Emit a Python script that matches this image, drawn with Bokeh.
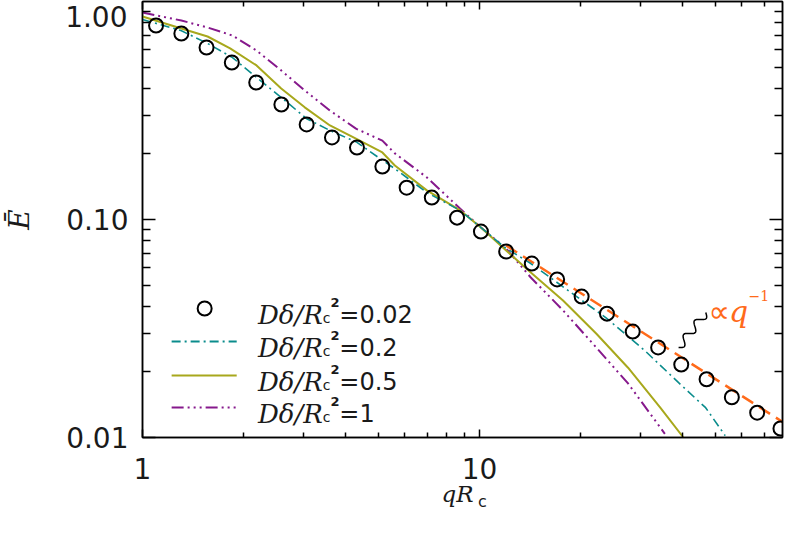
import numpy as np
from bokeh.plotting import figure
from bokeh.models import (LogAxis, LinearAxis, FixedTicker, PrintfTickFormatter, Label, Range1d,
                          LinearScale)
from bokeh.embed import file_html
from bokeh.resources import INLINE

# ---------------- data ----------------
q_circ = [1.097, 1.304, 1.549, 1.841, 2.175, 2.583, 3.07, 3.65, 4.33, 5.15, 6.08, 7.22, 8.58,
          10.1, 12.0, 14.3, 17.0, 20.1, 23.9, 28.5, 33.9, 39.7, 47.2, 56.1, 66.7, 78.2]
E_circ = [0.776, 0.713, 0.615, 0.525, 0.425, 0.337, 0.273, 0.238, 0.214, 0.175, 0.140, 0.126, 0.102,
          0.088, 0.0713, 0.0628, 0.0531, 0.0443, 0.0370, 0.0306, 0.0259, 0.0216, 0.0185, 0.0153, 0.0130, 0.0110]

q_02 = [1.0, 1.30, 1.56, 1.85, 2.18, 2.58, 3.07, 3.60, 4.33, 5.15, 5.61, 6.98, 8.77, 10.1, 11.9,
        14.2, 23.7, 30.9, 39.2, 46.9, 53.6]
E_02 = [0.827, 0.736, 0.642, 0.553, 0.448, 0.363, 0.290, 0.256, 0.226, 0.187, 0.171, 0.133, 0.110,
        0.0919, 0.0744, 0.0628, 0.0355, 0.0251, 0.0177, 0.0137, 0.0102]

q_05 = [1.0, 1.304, 1.56, 1.82, 2.18, 2.58, 3.03, 3.60, 4.30, 5.15, 5.61, 6.98, 8.77, 10.1, 12.0,
        14.2, 17.7, 22.2, 27.6, 34.4, 40.3]
E_05 = [0.853, 0.752, 0.691, 0.609, 0.509, 0.399, 0.327, 0.270, 0.235, 0.203, 0.177, 0.136, 0.110,
        0.0919, 0.0721, 0.0571, 0.0425, 0.030, 0.0209, 0.0137, 0.0100]

q_1 = [1.0, 1.304, 1.56, 1.85, 2.18, 2.58, 3.03, 3.60, 4.30, 5.15, 5.61, 6.98, 8.77, 10.1, 12.0,
       14.2, 17.7, 22.2, 27.6, 35.5]
E_1 = [0.890, 0.818, 0.760, 0.698, 0.596, 0.483, 0.391, 0.316, 0.261, 0.230, 0.201, 0.156, 0.112,
       0.0919, 0.0736, 0.0542, 0.0383, 0.0259, 0.0177, 0.0104]

q_fit = [12.0, 79.3]
E_fit = [0.076, 0.0118]

legend_values = ["0.02", "0.2", "0.5", "1"]
x_major = [1, 10]
y_major = [0.01, 0.1]
y_top_label = "1.00"
x_title, x_title_sub = "qR", "c"
y_title = "Ē"

# ---------------- figure ----------------
W, H = 784, 517
XMAX = 79.3
FL, FT, FW, FH = 140, 1, 642, 436   # frame in canvas pixels
p = figure(width=W, height=H, x_axis_type="log", y_axis_type="log",
           x_range=Range1d(1, XMAX), y_range=Range1d(0.01, 1.0),
           output_backend="svg", toolbar_location=None,
           min_border_left=FL, min_border_right=W - FL - FW, min_border_top=FT,
           min_border_bottom=H - FT - FH,
           background_fill_color="white", border_fill_color="white")
p.xgrid.visible = False
p.ygrid.visible = False
p.outline_line_color = "black"
p.outline_line_width = 1.5
# pixel-valued helper ranges (linear), used only to place the axis titles
p.extra_x_ranges = {"px": Range1d(FL, FL + FW)}
p.extra_x_scales = {"px": LinearScale()}
p.extra_y_ranges = {"py": Range1d(FT + FH, FT)}
p.extra_y_scales = {"py": LinearScale()}

x_minor = [m * 10 ** e for e in range(0, 2) for m in range(2, 10) if m * 10 ** e < XMAX]
y_minor = [m * 10.0 ** e for e in (-2, -1) for m in range(2, 10)]

TICK_FONT = "DejaVu Sans"
SERIF = "DejaVu Serif"
INK = "#1a1a1a"

def style_common(ax, major_in, minor_in):
    ax.major_tick_in = major_in
    ax.major_tick_out = 0
    ax.minor_tick_in = minor_in
    ax.minor_tick_out = 0
    ax.axis_line_width = 1.5
    ax.major_tick_line_width = 1.5
    ax.minor_tick_line_width = 1.5
    ax.axis_line_color = "black"

def hide_labels(ax):
    ax.major_label_text_font_size = "1px"
    ax.major_label_text_alpha = 0
    ax.major_label_standoff = 0

def text_only(ax):
    ax.axis_line_color = None
    ax.major_tick_line_color = None
    ax.minor_tick_line_color = None
    ax.major_tick_in = 0
    ax.major_tick_out = 0
    ax.minor_tick_in = 0
    ax.minor_tick_out = 0

xa = p.xaxis[0]
xa.ticker = FixedTicker(ticks=x_major, minor_ticks=x_minor)
style_common(xa, 8, 5)
xa.formatter = PrintfTickFormatter(format="%d")
xa.major_label_text_font = TICK_FONT
xa.major_label_text_font_size = "28px"
xa.major_label_text_color = INK
xa.major_label_standoff = 20

ya = p.yaxis[0]
ya.ticker = FixedTicker(ticks=y_major, minor_ticks=y_minor)
style_common(ya, 13, 8)
ya.formatter = PrintfTickFormatter(format="%.2f")
ya.major_label_text_font = TICK_FONT
ya.major_label_text_font_size = "28px"
ya.major_label_text_color = INK
ya.major_label_standoff = 14
ya.axis_label = y_title
ya.axis_label_text_font = SERIF
ya.axis_label_text_font_style = "italic"
ya.axis_label_text_font_size = "28px"
ya.axis_label_text_color = INK
ya.axis_label_standoff = 27

top = LogAxis(ticker=FixedTicker(ticks=x_major, minor_ticks=x_minor))
style_common(top, 8, 5)
hide_labels(top)
p.add_layout(top, "above")
right = LogAxis(ticker=FixedTicker(ticks=y_major, minor_ticks=y_minor))
style_common(right, 13, 8)
hide_labels(right)
p.add_layout(right, "right")

# "1.00" label (its tick sits on the top edge) on a text-only left axis
TOP_LBL_Y = 16
yl = LinearAxis(y_range_name="py", ticker=FixedTicker(ticks=[TOP_LBL_Y], minor_ticks=[]),
                major_label_overrides={TOP_LBL_Y: y_top_label})
text_only(yl)
yl.major_label_text_font = TICK_FONT
yl.major_label_text_font_size = "28px"
yl.major_label_text_color = INK
yl.major_label_standoff = -127
p.add_layout(yl, "left")

# x title q R_c on two text-only bottom axes (subscript row first, then main row pulled up)
QR_X, C_X = 456, 481
xc = LinearAxis(x_range_name="px", ticker=FixedTicker(ticks=[C_X], minor_ticks=[]),
                major_label_overrides={C_X: x_title_sub})
text_only(xc)
xc.major_label_text_font = TICK_FONT
xc.major_label_text_font_size = "16px"
xc.major_label_text_color = INK
xc.major_label_standoff = 10
p.add_layout(xc, "below")
xl = LinearAxis(x_range_name="px", ticker=FixedTicker(ticks=[QR_X], minor_ticks=[]),
                major_label_overrides={QR_X: x_title})
text_only(xl)
xl.major_label_text_font = SERIF
xl.major_label_text_font_style = "italic"
xl.major_label_text_font_size = "23px"
xl.major_label_text_color = INK
xl.major_label_standoff = -33
p.add_layout(xl, "below")

TEAL = "#0a8c8c"
OLIVE = "#a8a81c"
PURPLE = "#86198c"
ORANGE = "#ff6a1a"

D_TEAL = "9 4 2 4"
D_PURPLE = "12 4 2 4 2 4 2 4"

p.line(q_fit, E_fit, line_color=ORANGE, line_width=2.5, line_dash="13 7")
p.line(q_1, E_1, line_color=PURPLE, line_width=2, line_dash=D_PURPLE)
p.line(q_05, E_05, line_color=OLIVE, line_width=2)
p.line(q_02, E_02, line_color=TEAL, line_width=1.6, line_dash=D_TEAL)
p.scatter(q_circ, E_circ, marker="circle", size=14, fill_color=None,
          line_color="black", line_width=2)

# -------- helpers: canvas pixel -> data / label units (legend, annotation decorations) --------
def qx(px):
    return 10 ** ((px - FL) / FW * np.log10(XMAX))
def Ey(py):
    return 10 ** (-(py - FT) / FH * 2)
def lx(px):
    return px - FL
def ly(py):
    return FT + FH - py
SX = FW / 659.0
def rx(px):   # reference x -> canvas x
    return FL + (px - 140) * SX

# -------- legend --------
mark_y = [308, 341, 375, 407]
base_y = [y + 6.5 for y in mark_y]
p.scatter([qx(rx(204))], [Ey(mark_y[0])], marker="circle", size=14, fill_color=None,
          line_color="black", line_width=2)
for yy, col, dash in [(mark_y[1], TEAL, D_TEAL), (mark_y[2], OLIVE, "solid"), (mark_y[3], PURPLE, D_PURPLE)]:
    p.line([qx(rx(170)), qx(rx(237))], [Ey(yy), Ey(yy)], line_color=col, line_width=2, line_dash=dash)

for b, v in zip(base_y, legend_values):
    p.add_layout(Label(x=lx(rx(325)), y=ly(b), x_units="screen", y_units="screen", text="Dδ/R",
                       text_font=SERIF, text_font_style="italic", text_font_size="26px",
                       text_align="right", text_baseline="alphabetic", text_color=INK))
    p.add_layout(Label(x=lx(rx(325)), y=ly(b + 3), x_units="screen", y_units="screen", text="c",
                       text_font=TICK_FONT, text_font_size="14px",
                       text_align="left", text_baseline="alphabetic", text_color=INK))
    p.add_layout(Label(x=lx(rx(333)), y=ly(b - 13), x_units="screen", y_units="screen", text="2",
                       text_font=TICK_FONT, text_font_size="13px", text_font_style="bold",
                       text_align="left", text_baseline="alphabetic", text_color=INK))
    p.add_layout(Label(x=lx(rx(342)), y=ly(b), x_units="screen", y_units="screen", text="=" + v,
                       text_font=TICK_FONT, text_font_size="24px",
                       text_align="left", text_baseline="alphabetic", text_color=INK))

# -------- ∝ q^-1 annotation --------
p.add_layout(Label(x=lx(rx(721)), y=ly(311), x_units="screen", y_units="screen", text="∝",
                   text_font=TICK_FONT, text_font_size="30px",
                   text_align="left", text_baseline="alphabetic", text_color=ORANGE))
p.add_layout(Label(x=lx(rx(742)), y=ly(311), x_units="screen", y_units="screen", text="q",
                   text_font=SERIF, text_font_style="italic", text_font_size="30px",
                   text_align="left", text_baseline="alphabetic", text_color=ORANGE))
p.add_layout(Label(x=lx(rx(762)), y=ly(295), x_units="screen", y_units="screen", text="−1",
                   text_font=SERIF, text_font_size="14px",
                   text_align="left", text_baseline="alphabetic", text_color=ORANGE))

# squiggle connector
x0, y0, x1, y1 = rx(692), 347.0, rx(720), 312.0
t = np.linspace(0, 1, 80)
L = np.hypot(x1 - x0, y1 - y0)
ux, uy = (x1 - x0) / L, (y1 - y0) / L
nx, ny = -uy, ux
w = 4.0 * np.sin(2 * np.pi * 2.5 * t)
sxs = x0 + ux * L * t + nx * w
sys_ = y0 + uy * L * t + ny * w
p.line([qx(v) for v in sxs], [Ey(v) for v in sys_], line_color="black", line_width=1.5)

open("out.html", "w").write(file_html(p, INLINE))
